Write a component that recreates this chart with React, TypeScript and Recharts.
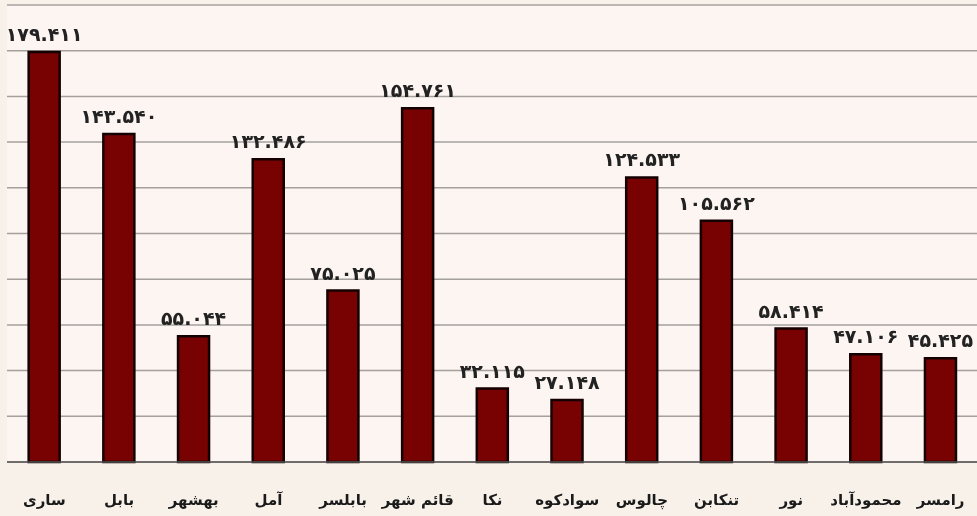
import React from "react";
import { BarChart, Bar, XAxis, YAxis, CartesianGrid, LabelList } from "recharts";

const categories = ["ساری", "بابل", "بهشهر", "آمل", "بابلسر", "قائم شهر", "نکا", "سوادکوه", "چالوس", "تنکابن", "نور", "محمودآباد", "رامسر"];
const values = [179.411, 143.54, 55.044, 132.486, 75.025, 154.761, 32.115, 27.148, 124.533, 105.562, 58.414, 47.106, 45.425];
const valueLabels = ["۱۷۹.۴۱۱", "۱۴۳.۵۴۰", "۵۵.۰۴۴", "۱۳۲.۴۸۶", "۷۵.۰۲۵", "۱۵۴.۷۶۱", "۳۲.۱۱۵", "۲۷.۱۴۸", "۱۲۴.۵۳۳", "۱۰۵.۵۶۲", "۵۸.۴۱۴", "۴۷.۱۰۶", "۴۵.۴۲۵"];
const yTicks = [0, 20, 40, 60, 80, 100, 120, 140, 160, 180, 200];

const data = categories.map((name, i) => ({ name, value: values[i], label: valueLabels[i] }));

const FONT = "'DejaVu Sans', sans-serif";

const CatTick = (props: any) => {
  const { x, y, payload } = props;
  return (
    <text x={x} y={y + 35} textAnchor="middle" fontFamily={FONT} fontWeight="bold" fontSize={15} fill="#1a1a1a">
      {payload.value}
    </text>
  );
};

const NoTick = () => <g />;

export default function App() {
  return (
    <div style={{ position: "fixed", left: 0, top: 0, width: 977, height: 516, background: "#f7f1ea" }}>
      <BarChart width={978} height={516} data={data} margin={{ top: 5, right: 0, bottom: 0, left: 7 }} barCategoryGap="29%">
        <CartesianGrid vertical={false} stroke="#a4a09e" strokeWidth={1.5} fill="#fcf5f1" />
        <YAxis width={0} domain={[0, 200]} ticks={yTicks} tick={<NoTick />} tickLine={false} axisLine={{ stroke: "#9a9694", strokeWidth: 1.5 }} />
        <XAxis dataKey="name" height={54} interval={0} tickLine={false} axisLine={{ stroke: "#555", strokeWidth: 1.5 }} tick={<CatTick />} />
        <Bar dataKey="value" fill="#780202" stroke="#140000" strokeWidth={2.5} isAnimationActive={false}>
          <LabelList dataKey="label" position="top" offset={11} fontFamily={FONT} fontWeight="bold" fontSize={19} fill="#222" />
        </Bar>
      </BarChart>
    </div>
  );
}
